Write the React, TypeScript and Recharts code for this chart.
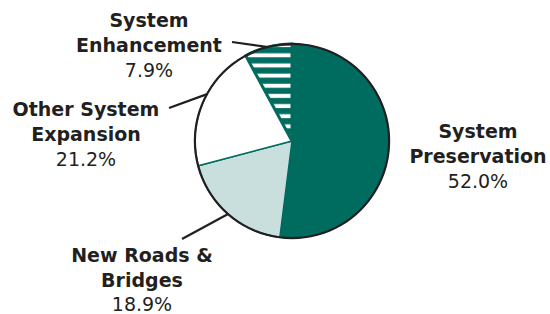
import { PieChart, Pie, Cell } from 'recharts';

const categories = ['System Preservation', 'New Roads & Bridges', 'Other System Expansion', 'System Enhancement'];
const shares = [52.0, 18.9, 21.2, 7.9];
const labelLines = [
  ['System', 'Preservation'],
  ['New Roads &', 'Bridges'],
  ['Other System', 'Expansion'],
  ['System', 'Enhancement'],
];

const TEAL = '#006b5f';
const LIGHT = '#c8dfdd';
const INK = '#231f20';

const fills = [TEAL, LIGHT, '#ffffff', 'url(#stripes)'];
const strokeWidths = [1.5, 1.5, 1.5, 3];

// label placement relative to pie center: text center x, first baseline y, leader end, angle shift
const labelPos = [
  { dx: 186, dy: -3, line: null, shift: 0 },
  { dx: -150, dy: 121, line: [-110, 98], shift: 0 },
  { dx: -206, dy: -25, line: [-123, -33], shift: -5.5 },
  { dx: -143, dy: -114, line: [-60, -99], shift: 0 },
];

const data = categories.map((name, i) => ({ name, value: shares[i] }));
const ring = [{ name: 'outline', value: 1 }];

const RADIAN = Math.PI / 180;

function renderLabel(props: any) {
  const { cx, cy, midAngle, outerRadius, index } = props;
  const pos = labelPos[index];
  const tx = cx + pos.dx;
  const ty = cy + pos.dy;
  let leader = null;
  if (pos.line) {
    const a = (midAngle + pos.shift) * RADIAN;
    const px = cx + outerRadius * Math.cos(a);
    const py = cy - outerRadius * Math.sin(a);
    leader = (
      <path d={`M${cx + pos.line[0]},${cy + pos.line[1]}L${px},${py}`} stroke={INK} strokeWidth={2.2} fill="none" />
    );
  }
  const gap = index === 1 ? 24.5 : 25;
  return (
    <g>
      {leader}
      <text x={tx} y={ty} textAnchor="middle" fill={INK} fontFamily="DejaVu Sans" fontSize={19}>
        <tspan x={tx} fontWeight="bold">{labelLines[index][0]}</tspan>
        <tspan x={tx} dy={gap} fontWeight="bold">{labelLines[index][1]}</tspan>
        <tspan x={tx} dy={gap}>{shares[index].toFixed(1) + '%'}</tspan>
      </text>
    </g>
  );
}

export default function App() {
  return (
    <div style={{ width: 550, height: 314, background: '#fff' }}>
      <style>{'body{margin:0}'}</style>
      <PieChart width={550} height={314} margin={{ top: 0, right: 0, bottom: 0, left: 0 }}>
        <defs>
          <pattern id="stripes" patternUnits="userSpaceOnUse" width={20} height={10.15}>
            <rect x={0} y={0} width={20} height={10.15} fill={TEAL} />
            <rect x={0} y={2.55} width={20} height={4} fill="#ffffff" />
          </pattern>
        </defs>
        <Pie
          data={data}
          dataKey="value"
          nameKey="name"
          cx={292}
          cy={141}
          outerRadius={97}
          startAngle={90}
          endAngle={-270}
          label={renderLabel}
          labelLine={false}
          isAnimationActive={false}
        >
          {data.map((d, i) => (
            <Cell key={d.name} fill={fills[i]} stroke={TEAL} strokeWidth={strokeWidths[i]} />
          ))}
        </Pie>
        <Pie
          data={ring}
          dataKey="value"
          cx={292}
          cy={141}
          innerRadius={96}
          outerRadius={98.2}
          startAngle={90}
          endAngle={-270}
          fill={INK}
          stroke="none"
          isAnimationActive={false}
        />
      </PieChart>
    </div>
  );
}
